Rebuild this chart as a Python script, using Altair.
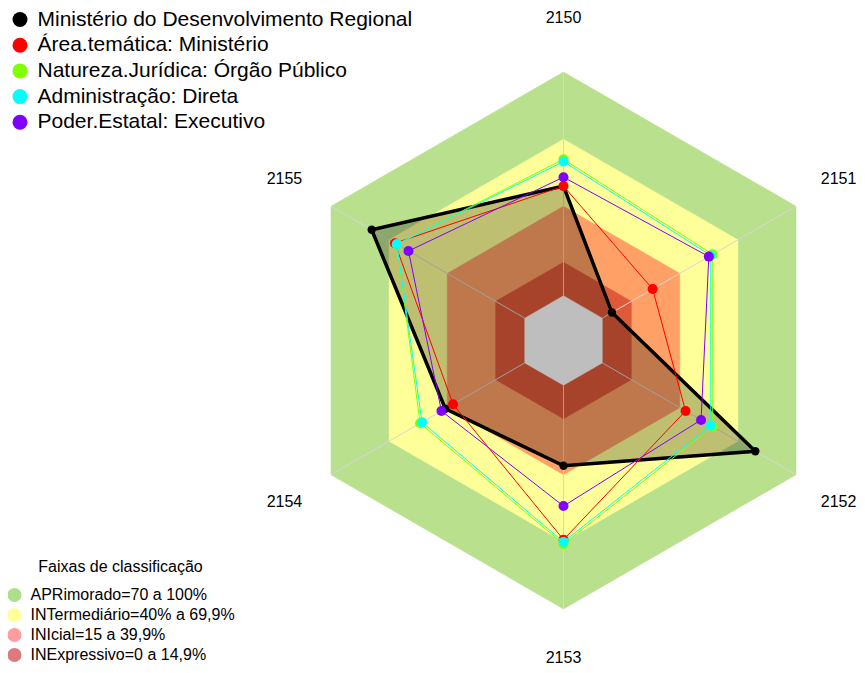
import altair as alt
import pandas as pd

# ---------------- data ----------------
axis_labels = ["2150", "2151", "2152", "2153", "2154", "2155"]

series_names = [
    "Ministério do Desenvolvimento Regional",
    "Área.temática: Ministério",
    "Natureza.Jurídica: Órgão Público",
    "Administração: Direta",
    "Poder.Estatal: Executivo",
]
series_colors = ["#000000", "#FF0000", "#80FF00", "#00FFFF", "#8000FF"]

serie_ministerio = [49, 5, 79, 36, 41, 79]
serie_area = [49, 26, 43, 69, 37, 67]
serie_natureza = [61, 57, 57, 71, 54, 66]
serie_admin = [60, 56, 56, 70, 53, 66]
serie_poder = [53, 55, 51, 54, 43, 60]

band_names = [
    "APRimorado=70 a 100%",
    "INTermediário=40% a 69,9%",
    "INIcial=15 a 39,9%",
    "INExpressivo=0 a 14,9%",
]
band_top = [100, 70, 40, 15]
band_colors = ["#B9E08D", "#FFFF99", "#FFA066", "#E05A3A"]
band_legend_colors = ["#AEDD8C", "#FFFF99", "#FF9C9C", "#DC7B7B"]
center_name = "centro"
center_level = 0
center_color = "#BEBEBE"

# ---------------- layout ----------------
W, H = 849, 657
CX, CY = 555.5, 332.5
RPX = 268.5
x_dom = [-CX / RPX, (W - CX) / RPX]
y_dom = [-(H - CY) / RPX, CY / RPX]
FONT = "Liberation Sans"

series_values = [serie_ministerio, serie_area, serie_natureza, serie_admin, serie_poder]
df_series = pd.DataFrame(
    [{"serie": n, "k": k, "v": v}
     for n, vals in zip(series_names, series_values)
     for k, v in enumerate(vals)]
)
df_bands = pd.DataFrame(
    [{"band": b, "k": k, "v": lvl}
     for b, lvl in zip(band_names + [center_name], band_top + [center_level])
     for k in range(6)]
)
df_axes = pd.DataFrame({"label": axis_labels, "k": list(range(6))})
df_series_leg = pd.DataFrame({"serie": series_names})
df_band_leg = pd.DataFrame({"band": band_names})

R_EXPR = "1/6 + datum.v/100*5/6"
X = alt.X("x:Q", scale=alt.Scale(domain=x_dom, nice=False, zero=False), axis=None)
Y = alt.Y("y:Q", scale=alt.Scale(domain=y_dom, nice=False, zero=False), axis=None)


def polar(ch):
    return (ch.transform_calculate(r=R_EXPR)
              .transform_calculate(x="datum.r*sin(datum.k*PI/3)")
              .transform_calculate(y="datum.r*cos(datum.k*PI/3)"))


layers = []

# bands
band_base = polar(alt.Chart(df_bands))
for name, col in zip(band_names, band_colors):
    layers.append(
        band_base.transform_filter(alt.datum.band == name)
        .mark_line(interpolate="linear-closed", fill=col, stroke=col, strokeWidth=0.5)
        .encode(x=X, y=Y, order=alt.Order("k:Q"))
    )

# spokes
spokes = (
    alt.Chart(df_axes)
    .transform_calculate(x="(1/6)*sin(datum.k*PI/3)", y="(1/6)*cos(datum.k*PI/3)",
                         x2="sin(datum.k*PI/3)", y2="cos(datum.k*PI/3)")
    .mark_rule(color="#D6D6D6", strokeWidth=1)
    .encode(x=X, y=Y, x2="x2:Q", y2="y2:Q")
)
layers.append(spokes)

series_base = polar(alt.Chart(df_series))

# translucent fill of the first series
layers.append(
    series_base.transform_filter(alt.datum.serie == series_names[0])
    .mark_line(interpolate="linear-closed", fill="#000000", fillOpacity=0.25, strokeOpacity=0)
    .encode(x=X, y=Y, order=alt.Order("k:Q"))
)

# center hole
layers.append(
    band_base.transform_filter(alt.datum.band == center_name)
    .mark_line(interpolate="linear-closed", fill=center_color, stroke=center_color, strokeWidth=0.5)
    .encode(x=X, y=Y, order=alt.Order("k:Q"))
)

# series lines and points
for i, (name, col) in enumerate(zip(series_names, series_colors)):
    sub = series_base.transform_filter(alt.datum.serie == name)
    layers.append(
        sub.mark_line(interpolate="linear-closed", color=col,
                      strokeWidth=3.5 if i == 0 else 1)
        .encode(x=X, y=Y, order=alt.Order("k:Q"))
    )
    layers.append(
        sub.mark_point(filled=True, opacity=1, color=col, size=70 if i == 0 else 100)
        .encode(x=X, y=Y)
    )

# axis labels
lab_base = alt.Chart(df_axes).transform_calculate(
    x="1.2*sin(datum.k*PI/3)", y="1.2*cos(datum.k*PI/3)"
)
lab_style = dict(font=FONT, fontSize=16, color="#000000", align="center", baseline="middle")
layers.append(
    lab_base.transform_filter("datum.k == 0 || datum.k == 4 || datum.k == 5")
    .mark_text(**lab_style).encode(x=X, y=Y, text="label:N")
)
layers.append(
    lab_base.transform_filter("datum.k == 1 || datum.k == 2")
    .mark_text(dx=-4, **lab_style).encode(x=X, y=Y, text="label:N")
)
layers.append(
    lab_base.transform_filter("datum.k == 3")
    .mark_text(dy=-5, **lab_style).encode(x=X, y=Y, text="label:N")
)

# legends (invisible marks carrying the legends)
series_legend = (
    alt.Chart(df_series_leg)
    .transform_calculate(x="0", y="0")
    .mark_point(filled=True, size=0, opacity=1)
    .encode(
        x=X, y=Y,
        color=alt.Color(
            "serie:N",
            scale=alt.Scale(domain=series_names, range=series_colors),
            legend=alt.Legend(
                title=None, orient="none", legendX=1.5, legendY=1,
                direction="vertical", symbolType="circle", symbolSize=225,
                symbolStrokeWidth=0, labelFont=FONT, labelFontSize=21,
                labelColor="#000000", labelLimit=700, labelOffset=7,
                rowPadding=3.7, padding=0,
            ),
        ),
    )
)
band_legend = (
    alt.Chart(df_band_leg)
    .transform_calculate(x="0", y="0")
    .mark_point(filled=True, size=0, opacity=1)
    .encode(
        x=X, y=Y,
        fill=alt.Fill(
            "band:N",
            scale=alt.Scale(domain=band_names, range=band_legend_colors),
            legend=alt.Legend(
                title="Faixas de classificação", orient="none", legendX=-1.5, legendY=551,
                direction="vertical", symbolType="circle", symbolSize=196,
                symbolStrokeWidth=0, labelFont=FONT, labelFontSize=16,
                labelColor="#000000", labelLimit=700, labelOffset=8,
                rowPadding=4, padding=0, titleFont=FONT, titleFontSize=16,
                titleFontWeight="normal", titleColor="#000000",
                titleAnchor="middle", titlePadding=12,
            ),
        ),
    )
)
layers.append(series_legend)
layers.append(band_legend)

chart = (
    alt.layer(*layers)
    .resolve_scale(color="independent", fill="independent")
    .properties(width=W, height=H, autosize="none", padding=0, background="#FFFFFF")
    .configure_view(strokeWidth=0)
)

chart.save("out.html", embed_options={"renderer": "svg", "actions": False})
